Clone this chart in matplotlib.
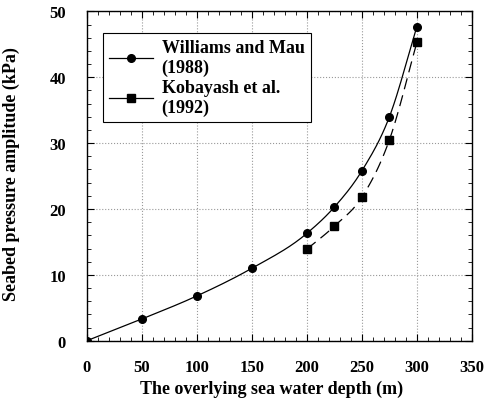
import numpy as np
import matplotlib
matplotlib.use("Agg")
import matplotlib.pyplot as plt
from matplotlib.ticker import MultipleLocator

depth_wm = [0, 50, 100, 150, 200, 225, 250, 275, 300]
press_wm = [0, 3.3, 6.8, 11.0, 16.3, 20.3, 25.8, 34.0, 47.7]
depth_kb = [200, 225, 250, 275, 300]
press_kb = [13.9, 17.4, 21.8, 30.5, 45.3]
xticks = [0, 50, 100, 150, 200, 250, 300, 350]
yticks = [0, 10, 20, 30, 40, 50]

def smooth(x, y, n=20):
    x = np.asarray(x, float); y = np.asarray(y, float)
    m = np.gradient(y, x)
    xs, ys = [], []
    for i in range(len(x) - 1):
        h = x[i+1] - x[i]
        t = np.linspace(0, 1, n)
        h00 = 2*t**3 - 3*t**2 + 1
        h10 = t**3 - 2*t**2 + t
        h01 = -2*t**3 + 3*t**2
        h11 = t**3 - t**2
        xs.append(x[i] + t*h)
        ys.append(h00*y[i] + h10*h*m[i] + h01*y[i+1] + h11*h*m[i+1])
    return np.concatenate(xs), np.concatenate(ys)

plt.rcParams['font.family'] = ['Liberation Serif', 'DejaVu Serif']
plt.rcParams['font.weight'] = 'bold'

fig = plt.figure(figsize=(4.88, 4.02), dpi=100)
ax = fig.add_axes([0.178, 0.150, 0.789, 0.819])

sx, sy = smooth(depth_wm, press_wm)
ax.plot(sx, sy, color='black', lw=0.9)
ax.plot(depth_wm, press_wm, 'o', color='black', ms=5.5)
kx, ky = smooth(depth_kb, press_kb)
ax.plot(kx, ky, color='black', lw=0.9, dashes=(9, 5))
ax.plot(depth_kb, press_kb, 's', color='black', ms=5.5)

l1, = ax.plot([], [], '-o', color='black', lw=0.9, ms=5.5)
l2, = ax.plot([], [], '-s', color='black', lw=0.9, ms=5.5)
leg = ax.legend([l1, l2], ['Williams and Mau\n(1988)', 'Kobayash et al.\n(1992)'],
                loc='upper left', bbox_to_anchor=(0.042, 0.935), borderaxespad=0,
                frameon=True, fancybox=False, edgecolor='black', framealpha=1,
                prop={'size': 13, 'weight': 'bold'}, handlelength=2.4,
                handletextpad=0.5, borderpad=0.35, labelspacing=0.15)
leg.get_frame().set_linewidth(0.8)

ax.set_xlim(0, 350)
ax.set_ylim(0, 50)
ax.set_xticks(xticks)
ax.set_yticks(yticks)
ax.xaxis.set_minor_locator(MultipleLocator(10))
ax.yaxis.set_minor_locator(MultipleLocator(2))
ax.tick_params(which='both', direction='in', top=True, right=True, labelsize=12)
ax.tick_params(which='major', length=5)
ax.tick_params(axis='x', which='major', pad=13)
ax.tick_params(axis='y', which='major', pad=15)
ax.tick_params(which='minor', length=3)
ax.grid(True, which='major', linestyle=':', color='#999999', lw=0.8)
for s in ax.spines.values():
    s.set_linewidth(1.0)

ax.set_xlabel('The overlying sea water depth (m)', fontsize=13, fontweight='bold')
ax.set_ylabel('Seabed pressure amplitude (kPa)', fontsize=13, fontweight='bold')
ax.xaxis.set_label_coords(0.479, -0.118)
ax.yaxis.set_label_coords(-0.173, 0.51)

fig.savefig('out.png', dpi=100)
